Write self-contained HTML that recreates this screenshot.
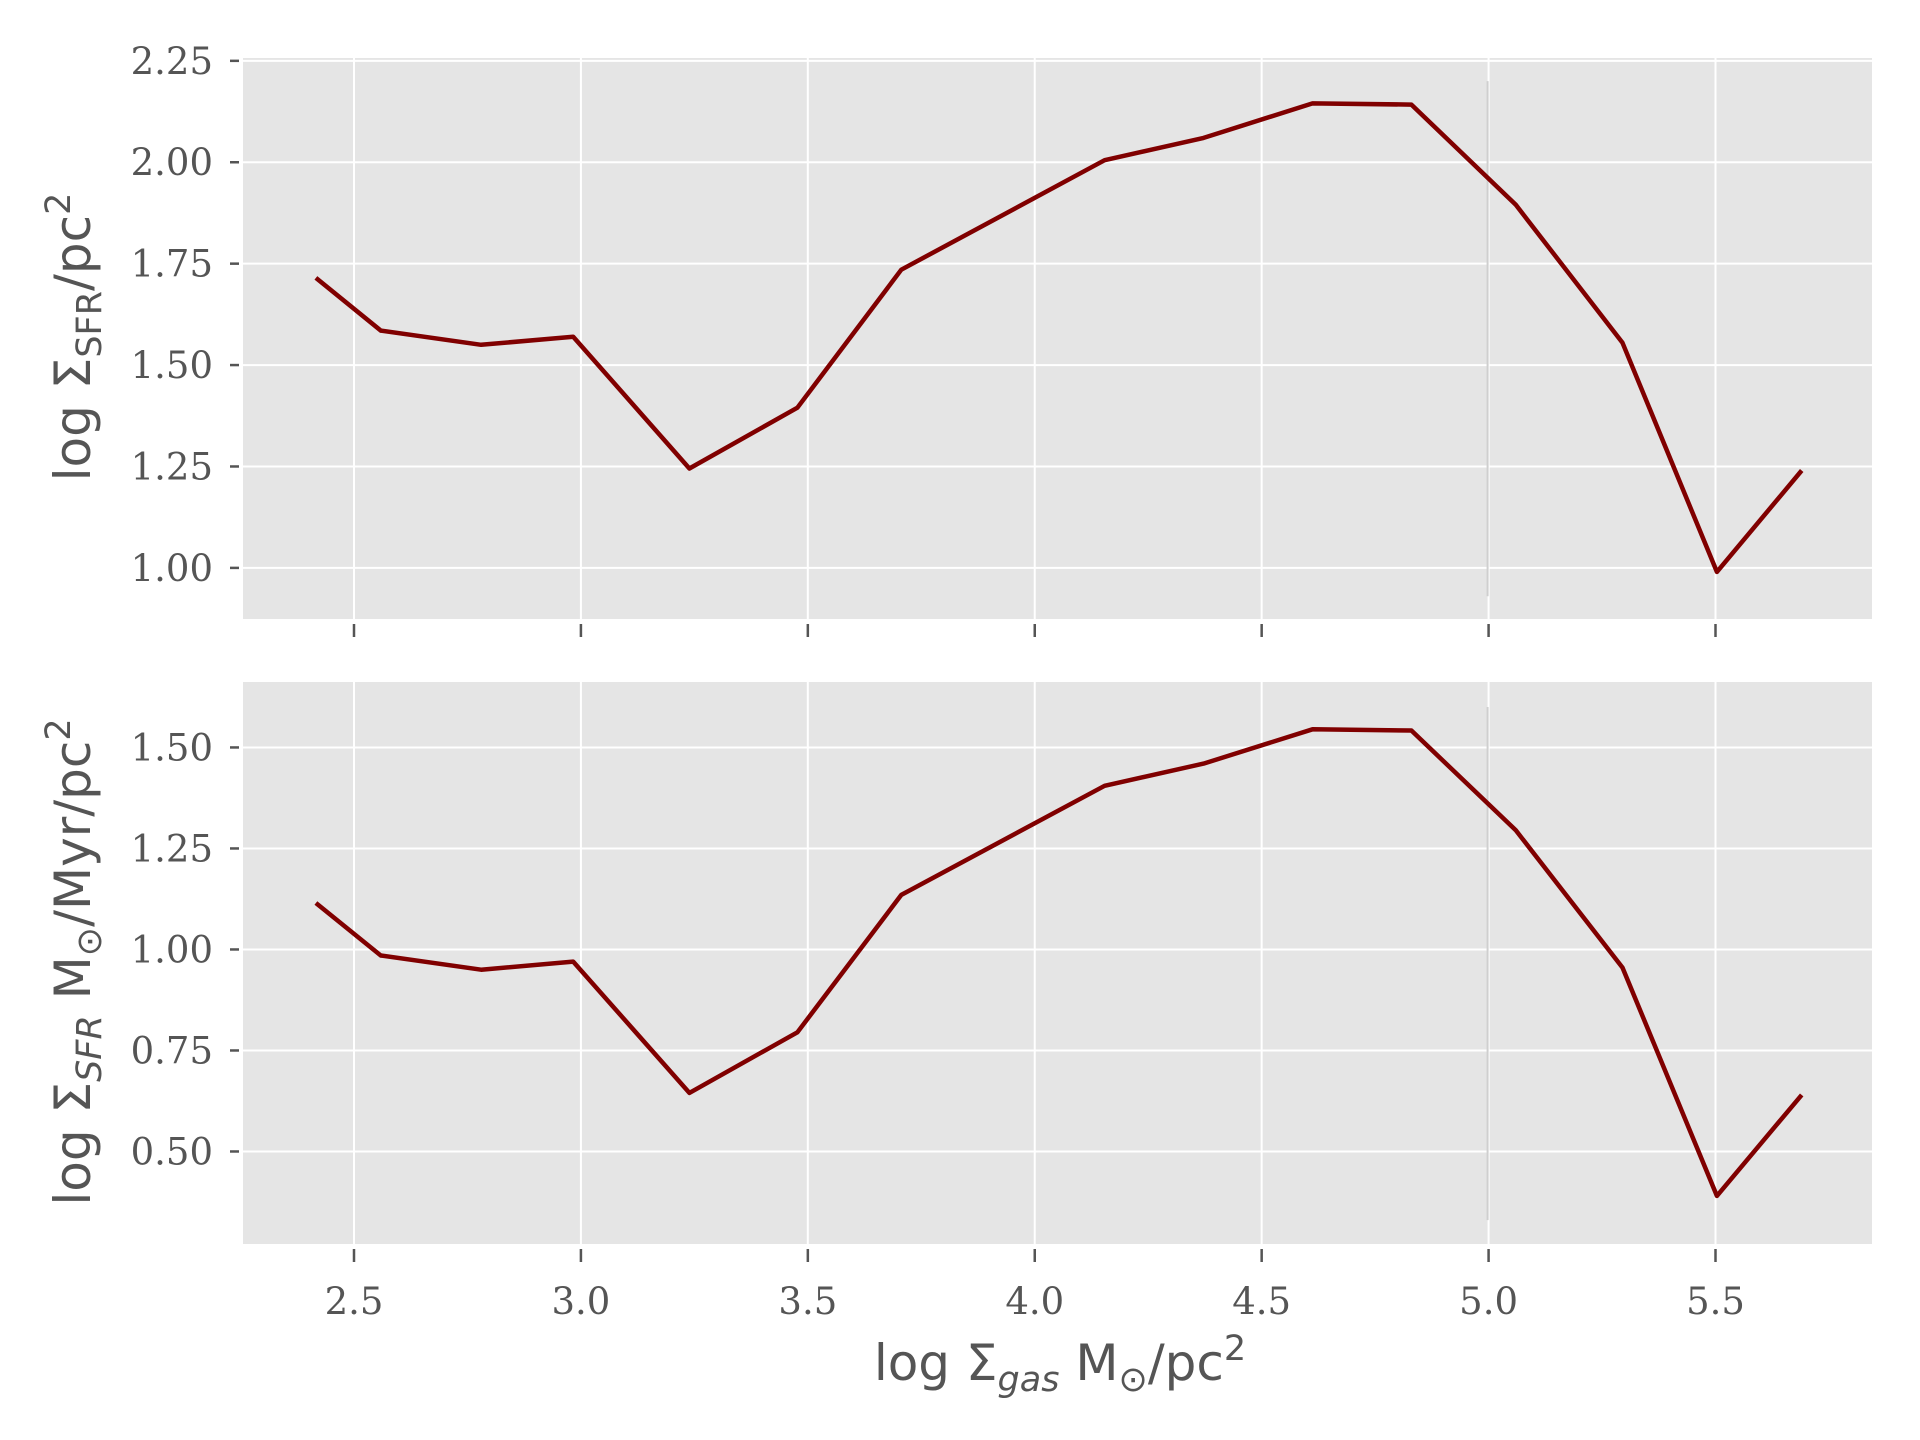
<!DOCTYPE html>
<html><head><meta charset="utf-8"><style>
body{margin:0;background:#fff}
svg{display:block}
.tick{font-family:"DejaVu Serif","Liberation Serif",serif;font-size:37px;fill:#555}
.lab{font-family:"DejaVu Sans","Liberation Sans",sans-serif;font-size:50px;fill:#555}
</style></head><body>
<svg id="chart" width="1920" height="1440" xmlns="http://www.w3.org/2000/svg"></svg>
<script>
const xValues=[2.416,2.559,2.78,2.983,3.239,3.477,3.706,4.154,4.372,4.612,4.83,5.06,5.295,5.503,5.69];
const topValues=[1.715,1.585,1.55,1.57,1.245,1.395,1.735,2.005,2.06,2.145,2.142,1.895,1.555,0.99,1.24];
const bottomValues=[1.115,0.985,0.95,0.97,0.645,0.795,1.135,1.405,1.46,1.545,1.542,1.295,0.955,0.39,0.64];
const xTicks=[2.5,3.0,3.5,4.0,4.5,5.0,5.5];
const xTickLabels=["2.5","3.0","3.5","4.0","4.5","5.0","5.5"];
const topTicks=[1.00,1.25,1.50,1.75,2.00,2.25];
const bottomTicks=[0.50,0.75,1.00,1.25,1.50];

const NS="http://www.w3.org/2000/svg";
const svg=document.getElementById('chart');
function el(t,a,p){const e=document.createElementNS(NS,t);for(const k in a)e.setAttribute(k,a[k]);(p||svg).appendChild(e);return e;}
const L=243,R=1872;
const xs=v=>354+(v-2.5)*(1715.5-354)/3;
function panel(name,top,bot,vTop,vBot,ticks,vals,showX,vlineRange){
  const ys=v=>top+(vTop-v)/(vTop-vBot)*(bot-top);
  const g=el('g',{});
  
  
  const bg=el('rect',{x:L,y:top,width:R-L,height:bot-top,fill:'#e5e5e5'},g);
  
  
  xTicks.forEach((t,i)=>{
    const gl=el('line',{x1:xs(t),x2:xs(t),y1:top,y2:bot,stroke:'#fff','stroke-width':2},g);
    
    
    const tk=el('line',{x1:xs(t),x2:xs(t),y1:bot+5,y2:bot+18,stroke:'#555','stroke-width':2.5},g);
    
    
    if(showX){const tx=el('text',{x:xs(t),y:bot+70,'text-anchor':'middle',class:'tick'},g);tx.textContent=xTickLabels[i];
      
      }
  });
  ticks.forEach(t=>{
    const y=ys(t);
    const gl=el('line',{x1:L,x2:R,y1:y,y2:y,stroke:'#fff','stroke-width':2},g);
    
    
    const tk=el('line',{x1:L-13,x2:L-4,y1:y,y2:y,stroke:'#555','stroke-width':2.5},g);
    
    
    const tx=el('text',{x:L-30,y:y+13,'text-anchor':'end',class:'tick'},g);tx.textContent=t.toFixed(2);
    
    
  });
  const vl=el('line',{x1:xs(5.0)-1,x2:xs(5.0)-1,y1:ys(vlineRange[0]),y2:ys(vlineRange[1]),stroke:'#cfcfcf','stroke-width':2},g);
  
  
  const pts=xValues.map((x,i)=>xs(x).toFixed(1)+','+ys(vals[i]).toFixed(1)).join(' ');
  const pl=el('polyline',{points:pts,fill:'none',stroke:'#800000','stroke-width':4.5,'stroke-linejoin':'round'},g);
  
  
}
panel('top',58,619,2.257,0.874,topTicks,topValues,false,[2.2,0.93]);
panel('bottom',682,1244,1.662,0.271,bottomTicks,bottomValues,true,[1.6,0.33]);
</script>
<div style="position:absolute;left:0;top:0;width:1920px;height:1440px;pointer-events:none">
<svg width="1920" height="1440" xmlns="http://www.w3.org/2000/svg" style="position:absolute;left:0;top:0">
<text class="lab" transform="translate(90,337) rotate(-90)" text-anchor="middle">log Σ<tspan font-size="35" dy="11">SFR</tspan><tspan dy="-11">/pc</tspan><tspan font-size="35" dy="-20">2</tspan></text>
<text class="lab" transform="translate(90,962) rotate(-90)" text-anchor="middle">log Σ<tspan font-size="35" dy="11" font-style="italic">SFR</tspan><tspan dy="-11"> M</tspan><tspan font-size="35" dy="11">⊙</tspan><tspan dy="-11">/Myr/pc</tspan><tspan font-size="35" dy="-20">2</tspan></text>
<text class="lab" x="1060" y="1380" text-anchor="middle">log Σ<tspan font-size="35" dy="11" font-style="italic">gas</tspan><tspan dy="-11"> M</tspan><tspan font-size="35" dy="11">⊙</tspan><tspan dy="-11">/pc</tspan><tspan font-size="35" dy="-20">2</tspan></text>
</svg></div>
</body></html>
